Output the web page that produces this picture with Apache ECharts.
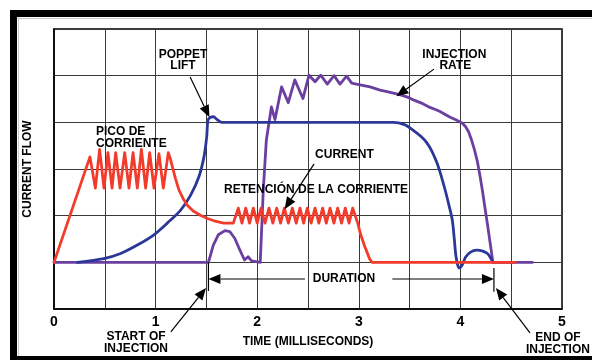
<!DOCTYPE html>
<html>
<head>
<meta charset="utf-8">
<script src="https://cdn.jsdelivr.net/npm/echarts@6/dist/echarts.min.js"></script>
<style>
html,body{margin:0;padding:0;background:#fff;}
#c{width:592px;height:360px;}
</style>
</head>
<body>
<div id="c"></div>
<script>
// ---- data (time in ms, relative level in grid units) ----
var xTicks = [0, 1, 2, 3, 4, 5];
var currentData = [
  [0,1],[0.354,3.26],
  [0.407,2.59],[0.449,3.42],[0.492,2.59],[0.531,3.35],[0.571,2.59],[0.607,3.35],[0.650,2.59],[0.696,3.35],
  [0.738,2.59],[0.778,3.35],[0.820,2.59],[0.860,3.42],[0.902,2.59],[0.942,3.35],[0.984,2.59],[1.033,3.33],
  [1.076,2.59],[1.125,3.35],
  [1.145,3.22],[1.165,3.05],[1.195,2.80],[1.23,2.55],[1.27,2.37],[1.31,2.23],[1.37,2.10],[1.44,2.01],
  [1.51,1.94],[1.575,1.89],[1.67,1.84],[1.765,1.84],
  [1.814,2.16],[1.850,1.84],[1.887,2.16],[1.925,1.84],[1.962,2.16],[2.000,1.84],[2.037,2.16],[2.077,1.84],
  [2.116,2.16],[2.154,1.84],[2.192,2.16],[2.230,1.84],[2.267,2.16],[2.307,1.84],[2.346,2.16],[2.384,1.84],
  [2.421,2.16],[2.457,1.84],[2.493,2.16],[2.531,1.84],[2.569,2.16],[2.607,1.84],[2.644,2.16],[2.680,1.84],
  [2.717,2.16],[2.755,1.84],[2.792,2.16],[2.830,1.84],[2.867,2.16],[2.904,1.84],[2.940,2.16],
  [2.99,1.84],[3.01,1.66],[3.03,1.52],[3.055,1.36],[3.08,1.22],[3.105,1.08],[3.13,1.0],[4.54,1.0]
];
var poppetData = [
  [0.23,1.0],[0.49,1.08],[0.656,1.19],[0.82,1.37],[0.984,1.59],[1.115,1.84],[1.247,2.12],[1.345,2.44],
  [1.427,2.84],[1.476,3.26],[1.503,3.69],[1.516,4.05],[1.542,4.11],[1.568,4.12],[1.61,4.05],[1.65,4.0],
  [3.34,4.0],[3.45,3.95],[3.53,3.84],[3.61,3.70],[3.67,3.56],[3.72,3.38],[3.77,3.13],[3.81,2.86],[3.85,2.55],
  [3.89,2.2],[3.92,1.91],[3.94,1.5],[3.955,1.15],[3.975,0.93],[3.99,0.88],[4.02,0.95],[4.05,1.11],[4.10,1.22],
  [4.16,1.26],[4.22,1.24],[4.27,1.18],[4.32,1.0]
];
var rateData = [
  [0,1],[1.52,1],[1.568,1.37],[1.617,1.59],[1.683,1.68],[1.73,1.66],[1.78,1.51],[1.83,1.26],[1.875,1.05],
  [1.91,1.12],[1.945,1.03],[1.96,1.0],[2.03,1.0],[2.06,2.55],[2.09,3.62],[2.14,4.33],[2.175,4.06],[2.24,4.76],
  [2.306,4.42],[2.37,4.91],[2.45,4.51],[2.51,5.01],[2.57,4.87],[2.625,5.01],[2.69,4.82],[2.756,5.0],[2.815,4.82],
  [2.88,4.99],[2.93,4.84],[3.0,4.81],[3.11,4.76],[3.21,4.69],[3.31,4.64],[3.41,4.59],[3.48,4.54],[3.55,4.47],
  [3.63,4.40],[3.70,4.32],[3.76,4.27],[3.80,4.23],[3.85,4.17],[3.90,4.11],[3.96,4.05],[4.02,3.98],[4.05,3.91],
  [4.08,3.80],[4.11,3.62],[4.14,3.40],[4.17,3.13],[4.195,2.83],[4.22,2.49],[4.245,2.12],[4.27,1.76],
  [4.295,1.38],[4.32,1.0],[4.71,1.0]
];
// annotation anchors in data coordinates
var textLabels = [
  {t:'POPPET', p:[1.27,5.46], a:'center'},
  {t:'LIFT', p:[1.27,5.21], a:'center'},
  {t:'INJECTION', p:[3.94,5.46], a:'center'},
  {t:'RATE', p:[3.95,5.21], a:'center'},
  {t:'PICO DE', p:[0.413,3.81], a:'left'},
  {t:'CORRIENTE', p:[0.413,3.54], a:'left'},
  {t:'CURRENT', p:[2.57,3.30], a:'left'},
  {t:'RETENCIÓN DE LA CORRIENTE', p:[1.673,2.55], a:'left'},
  {t:'DURATION', p:[2.854,0.643], a:'center'},
  {t:'START OF', p:[0.807,-0.60], a:'center'},
  {t:'INJECTION', p:[0.807,-0.857], a:'center'},
  {t:'END OF', p:[4.96,-0.62], a:'center'},
  {t:'INJECTION', p:[4.96,-0.88], a:'center'}
];
var arrows = [
  [[1.34,4.97],[1.53,4.11]],
  [[3.74,5.14],[3.37,4.56]],
  [[2.56,3.11],[2.27,2.14]],
  [[2.47,0.643],[1.52,0.643]],
  [[3.33,0.643],[4.33,0.643]],
  [[1.15,-0.49],[1.496,0.45]],
  [[4.685,-0.51],[4.35,0.45]]
];
var plainLines = [
  [[1.52,1.0],[1.52,0.386]],
  [[4.33,0.88],[4.33,0.37]]
];

var FONT = '"Liberation Sans", Arial, sans-serif';
var chart = echarts.init(document.getElementById('c'), null, {renderer:'canvas'});
chart.setOption({
  animation: false,
  backgroundColor: '#fff',
  grid: {left:54, right:30, top:29, bottom:51, show:true, borderColor:'#000', borderWidth:1.5},
  xAxis: {
    type:'value', min:0, max:5, interval:0.5,
    name:'TIME (MILLISECONDS)', nameLocation:'middle', nameGap:27,
    nameTextStyle:{fontFamily:FONT, fontWeight:'bold', fontSize:12, color:'#000'},
    axisLine:{show:true, lineStyle:{color:'#000', width:1.5}},
    axisTick:{show:false},
    axisLabel:{fontFamily:FONT, fontWeight:'bold', fontSize:14, color:'#000', margin:6,
      formatter:function(v){ return xTicks.indexOf(v) >= 0 ? String(v) : ''; }},
    splitLine:{show:true, lineStyle:{color:'#3a3a3a', width:1}}
  },
  yAxis: {
    type:'value', min:0, max:6, interval:1,
    name:'CURRENT FLOW', nameLocation:'middle', nameGap:20,
    nameTextStyle:{fontFamily:FONT, fontWeight:'bold', fontSize:12, color:'#000'},
    axisLine:{show:true, lineStyle:{color:'#000', width:1.5}},
    axisTick:{show:false},
    axisLabel:{show:false},
    splitLine:{show:true, lineStyle:{color:'#3a3a3a', width:1}}
  },
  series: [
    {name:'Injection rate', type:'line', data:rateData, symbol:'none', z:2,
     lineStyle:{color:'#6b3fa0', width:2.8, cap:'round', join:'round'}},
    {name:'Poppet lift', type:'line', data:poppetData, symbol:'none', z:3, smooth:0.3,
     lineStyle:{color:'#2b3897', width:2.8, cap:'round', join:'round'}},
    {name:'Current', type:'line', data:currentData, symbol:'none', z:4,
     lineStyle:{color:'#f23b2a', width:2.8, cap:'round', join:'round'}}
  ]
});

function P(d){ return chart.convertToPixel({gridIndex:0}, d); }
var els = [];
// outer frame
els.push({type:'rect', shape:{x:10,y:10,width:582,height:7}, style:{fill:'#000'}, z:100});
els.push({type:'rect', shape:{x:10,y:10,width:7,height:350}, style:{fill:'#000'}, z:100});
els.push({type:'rect', shape:{x:10,y:356,width:582,height:4}, style:{fill:'#000'}, z:100});
els.push({type:'line', shape:{x1:17,y1:18.5,x2:592,y2:18.5}, style:{stroke:'#ccc', lineWidth:1}, z:100});
els.push({type:'line', shape:{x1:18.5,y1:17,x2:18.5,y2:356}, style:{stroke:'#ccc', lineWidth:1}, z:100});

textLabels.forEach(function(o){
  var p = P(o.p);
  els.push({type:'text', z:100, style:{text:o.t, x:p[0], y:p[1], fill:'#000',
    font:'bold 12px ' + FONT, textAlign:o.a, align:o.a, textVerticalAlign:'middle', verticalAlign:'middle'}});
});
arrows.forEach(function(a){
  var s = P(a[0]), e = P(a[1]);
  var dx = e[0]-s[0], dy = e[1]-s[1], L = Math.sqrt(dx*dx+dy*dy);
  var ux = dx/L, uy = dy/L, hl = 12, hw = 5;
  var bx = e[0]-ux*hl, by = e[1]-uy*hl;
  els.push({type:'line', z:100, shape:{x1:s[0],y1:s[1],x2:bx,y2:by}, style:{stroke:'#000', lineWidth:1.2}});
  els.push({type:'polygon', z:100, shape:{points:[[e[0],e[1]],[bx-uy*hw,by+ux*hw],[bx+uy*hw,by-ux*hw]]}, style:{fill:'#000'}});
});
plainLines.forEach(function(l){
  var s = P(l[0]), e = P(l[1]);
  els.push({type:'line', z:100, shape:{x1:s[0],y1:s[1],x2:e[0],y2:e[1]}, style:{stroke:'#000', lineWidth:1.2}});
});
chart.setOption({graphic:{elements:els}});
</script>
</body>
</html>
